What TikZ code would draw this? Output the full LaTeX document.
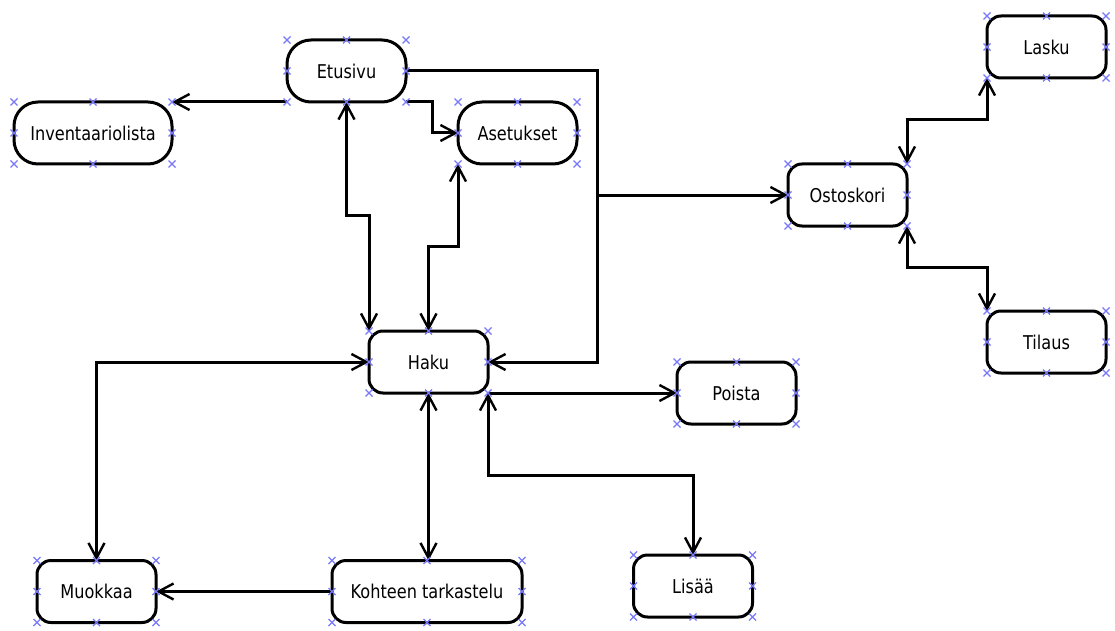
\documentclass[tikz,border=0pt]{standalone}
\usepackage{fontspec}
\setmainfont{DejaVu Sans}[FakeStretch=0.85]
\usetikzlibrary{arrows.meta,shapes.misc,calc}
\definecolor{xblue}{RGB}{120,120,250}
\tikzset{
  barb/.tip={Straight Barb[length=15pt,width=16pt,line width=2.4pt]},
  state/.style={draw, line width=3pt, rounded corners=14pt, inner sep=0pt,
    outer sep=0pt, minimum width=119pt, minimum height=62pt,
    font=\fontsize{19}{22}\selectfont},
  capsule/.style={rounded corners=24pt},
  link/.style={line width=3pt, -barb},
  both/.style={line width=3pt, barb-barb},
  xmk/.style={cross out, draw=xblue, line width=1.1pt, minimum size=7pt,
    inner sep=0pt, outer sep=0pt},
}
\newcommand\markbox[1]{%
  \foreach \a in {north west,north,north east,west,east,south west,south,south east}
    \node[xmk] at (#1.\a) {};}
\begin{document}
\begin{tikzpicture}[x=1pt,y=-1pt]
\useasboundingbox (0,0) rectangle (1115,631);

% states
\node[state,capsule] (etusivu) at (346.5,71) {Etusivu};
\node[state,capsule,minimum width=158pt] (inv) at (93,133) {Inventaariolista};
\node[state,capsule] (aset) at (517.5,133) {Asetukset};
\node[state] (lasku) at (1046.5,47) {Lasku};
\node[state] (ostos) at (847.5,195) {Ostoskori};
\node[state] (tilaus) at (1046.5,342) {Tilaus};
\node[state] (haku) at (428.5,362) {Haku};
\node[state] (poista) at (736.5,393) {Poista};
\node[state] (muok) at (96.5,591.5) {Muokkaa};
\node[state,minimum width=190pt] (koht) at (427,591.5) {Kohteen tarkastelu};
\node[state] (lisaa) at (693,586) {Lisää};

% connectors
\coordinate (trunk) at (597,195);
\draw[link] (etusivu.south west) -- (inv.north east);
\draw[link] (etusivu.south east) -- ++(26,0) |- (aset.west);
\draw[link] (etusivu.east) -| (trunk) |- (haku.east);
\draw[link] (trunk) -- (ostos.west);
\draw[both] (etusivu.south) -- ++(0,113) -| (haku.north west);
\draw[both] (aset.south west) -- ++(0,82) -| (haku.north);
\draw[both] (ostos.north east) -- ++(0,-44) -| (lasku.south west);
\draw[both] (ostos.south east) -- ++(0,41) -| (tilaus.north west);
\draw[both] (haku.west) -| (muok.north);
\draw[both] (haku.south) -- (haku.south |- koht.north);
\draw[link] (haku.south east) -- (haku.south east -| poista.west);
\draw[both] (haku.south east) -- ++(0,82) -| (lisaa.north);
\draw[link] (koht.west) -- (muok.east);

% anchor markers
\foreach \n in {etusivu,inv,aset,lasku,ostos,tilaus,haku,poista,muok,koht,lisaa}
  \markbox{\n};
\end{tikzpicture}
\end{document}
